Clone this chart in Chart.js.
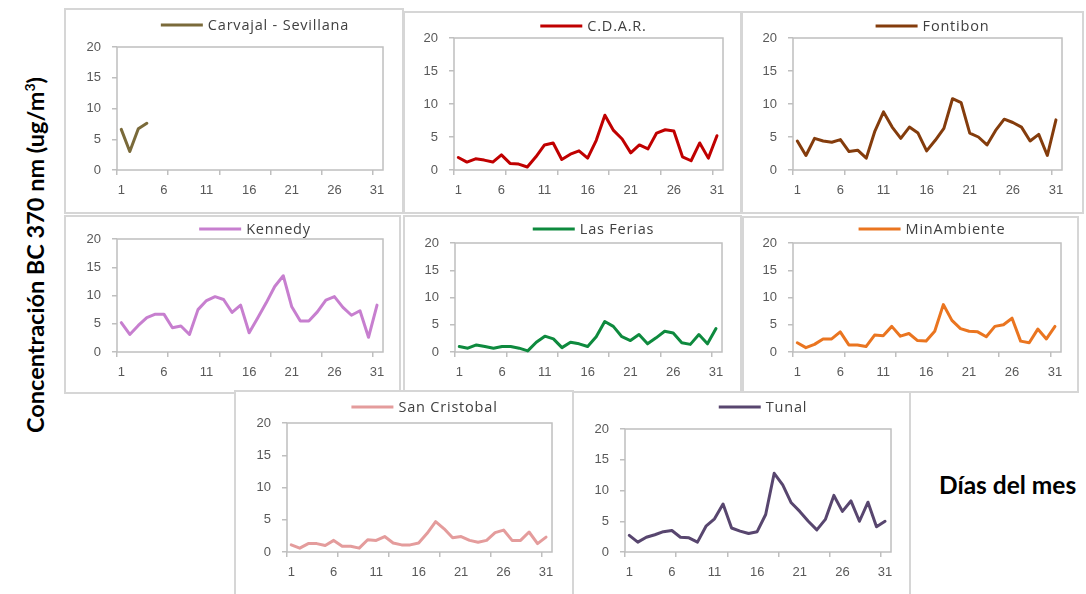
<!DOCTYPE html>
<html>
<head>
<meta charset="utf-8">
<script src="https://cdn.jsdelivr.net/npm/chart.js@4.4.1/dist/chart.umd.min.js"></script>
<style>
  html, body { margin: 0; padding: 0; background: #fff; }
  body { width: 1086px; height: 594px; overflow: hidden; position: relative; font-family: "Lato", "Liberation Sans", sans-serif; }
  .frame { position: absolute; border: 2px solid #d6d6d6; box-sizing: border-box; background: #fff; }
  canvas { position: absolute; }
  .ytitle {
    position: absolute; left: -175px; top: 241px; width: 420px; height: 28px;
    text-align: center; font-weight: bold; font-size: 23.5px; line-height: 28px; color: #000;
    transform: rotate(-90deg); white-space: nowrap;
  }
  .ytitle sup { font-size: 14px; line-height: 0; }
  .xtitle {
    position: absolute; left: 939px; top: 470px; font-weight: bold; font-size: 24.5px; color: #000; white-space: nowrap;
  }
</style>
</head>
<body>
<div class="ytitle">Concentración BC 370 nm (ug/m<sup>3</sup>)</div>
<div class="xtitle">Días del mes</div>
<script>
// Days of the month (x categories)
const days = [1, 2, 3, 4, 5, 6, 7, 8, 9, 10, 11, 12, 13, 14, 15, 16, 17, 18, 19, 20, 21, 22, 23, 24, 25, 26, 27, 28, 29, 30, 31];
const dayLabels = [1, 6, 11, 16, 21, 26, 31];
const yTicks = [0, 5, 10, 15, 20];

// Daily BC 370 nm concentration per station (ug/m3)
const carvajal = [6.6, 3.0, 6.7, 7.6];
const cdar = [1.9, 1.2, 1.7, 1.5, 1.2, 2.3, 1.0, 0.9, 0.45, 2.0, 3.8, 4.1, 1.6, 2.4, 2.9, 1.8, 4.5, 8.3, 6.0, 4.7, 2.6, 3.8, 3.2, 5.6, 6.1, 5.9, 2.0, 1.4, 4.1, 1.8, 5.2];
const fontibon = [4.4, 2.2, 4.8, 4.4, 4.2, 4.6, 2.8, 3.0, 1.8, 5.9, 8.8, 6.5, 4.8, 6.5, 5.6, 2.9, 4.5, 6.3, 10.8, 10.2, 5.6, 5.0, 3.8, 6.0, 7.7, 7.2, 6.5, 4.4, 5.4, 2.2, 7.6];
const kennedy = [5.2, 3.1, 4.7, 6.1, 6.7, 6.7, 4.3, 4.6, 3.1, 7.5, 9.1, 9.8, 9.3, 7.0, 8.3, 3.4, 6.0, 8.7, 11.6, 13.5, 8.0, 5.5, 5.5, 7.1, 9.2, 9.8, 7.9, 6.5, 7.3, 2.6, 8.3];
const lasFerias = [1.0, 0.7, 1.3, 1.0, 0.7, 1.0, 1.0, 0.7, 0.2, 1.8, 2.9, 2.4, 0.8, 1.8, 1.5, 1.0, 2.8, 5.6, 4.7, 2.8, 2.1, 3.2, 1.5, 2.6, 3.8, 3.5, 1.7, 1.4, 3.2, 1.5, 4.3];
const minAmbiente = [1.7, 0.8, 1.4, 2.4, 2.4, 3.7, 1.3, 1.3, 1.0, 3.1, 3.0, 4.7, 2.9, 3.4, 2.1, 2.0, 3.8, 8.7, 5.8, 4.3, 3.8, 3.7, 2.8, 4.7, 5.0, 6.2, 2.0, 1.7, 4.2, 2.4, 4.7];
const sanCristobal = [1.1, 0.6, 1.3, 1.3, 1.0, 1.8, 0.9, 0.9, 0.6, 1.9, 1.8, 2.4, 1.4, 1.1, 1.1, 1.4, 2.9, 4.7, 3.6, 2.2, 2.4, 1.8, 1.5, 1.8, 3.0, 3.4, 1.8, 1.8, 3.1, 1.3, 2.3];
const tunal = [2.7, 1.6, 2.4, 2.8, 3.3, 3.5, 2.4, 2.3, 1.6, 4.2, 5.4, 7.8, 3.9, 3.4, 3.0, 3.3, 6.1, 12.8, 10.9, 8.0, 6.6, 5.0, 3.6, 5.3, 9.2, 6.6, 8.3, 5.0, 8.1, 4.1, 5.0];

// Tick marks sit between categories, every sixth day
const tickMarks = [0.5, 6.5, 12.5, 18.5, 24.5, 30.5];

// Panel layout: frame box [l, t, r, b], plot box [l, t, r, b], legend centre y
const panels = [
  { name: 'Carvajal - Sevillana', values: carvajal,    color: '#7a6a3a', frame: [64, 8, 404, 214],   plot: [117, 47, 383, 170],  legendY: 25 },
  { name: 'C.D.A.R.',             values: cdar,        color: '#c00000', frame: [403, 11, 742, 214], plot: [454, 38, 723, 170],  legendY: 26 },
  { name: 'Fontibon',             values: fontibon,    color: '#843c0c', frame: [741, 11, 1084, 214],plot: [793, 38, 1062, 170], legendY: 26 },
  { name: 'Kennedy',              values: kennedy,     color: '#c77fcf', frame: [64, 215, 401, 394], plot: [117, 239, 383, 352], legendY: 229 },
  { name: 'Las Ferias',           values: lasFerias,   color: '#0e8a3e', frame: [403, 215, 742, 394],plot: [455, 243, 722, 352], legendY: 229 },
  { name: 'MinAmbiente',          values: minAmbiente, color: '#ea7520', frame: [742, 216, 1079, 393],plot: [793, 243, 1061, 352], legendY: 229 },
  { name: 'San Cristobal',        values: sanCristobal,color: '#e49c9c', frame: [234, 390, 574, 600],plot: [287, 423, 552, 552], legendY: 407 },
  { name: 'Tunal',                values: tunal,       color: '#58466f', frame: [572, 391, 911, 600],plot: [625, 429, 891, 552], legendY: 407 }
];

const PAD_TOP = 40, PAD_RIGHT = 10, Y_W = 60, X_H = 40;
const axisGray = '#bfbfbf';
const tickFont = { family: '"Liberation Sans", Arial, sans-serif', size: 13 };

// Plot-area outline drawn under the series
const plotBorder = {
  id: 'plotBorder',
  beforeDatasetsDraw(chart) {
    const { ctx, chartArea: a } = chart;
    ctx.save();
    ctx.strokeStyle = axisGray;
    ctx.lineWidth = 1.5;
    ctx.strokeRect(a.left, a.top, a.right - a.left, a.bottom - a.top);
    ctx.restore();
  }
};

// Line-sample legend centred above the plot
const lineLegend = {
  id: 'lineLegend',
  afterDraw(chart, args, opts) {
    const { ctx, chartArea: a } = chart;
    const ds = chart.data.datasets[0];
    ctx.save();
    ctx.font = '14.5px "Open Sans", "Liberation Sans", sans-serif';
    if ('letterSpacing' in ctx) ctx.letterSpacing = '0.8px';
    const tw = ctx.measureText(ds.label).width;
    const total = 42 + 5 + tw;
    const x0 = (a.left + a.right) / 2 + 5 - total / 2;
    const y = opts.y;
    ctx.strokeStyle = ds.borderColor;
    ctx.lineWidth = 3;
    ctx.beginPath();
    ctx.moveTo(x0, y);
    ctx.lineTo(x0 + 42, y);
    ctx.stroke();
    ctx.fillStyle = '#404040';
    ctx.textBaseline = 'middle';
    ctx.fillText(ds.label, x0 + 47, y + 1);
    ctx.restore();
  }
};

panels.forEach(p => {
  const [fl, ft, fr, fb] = p.frame;
  const frame = document.createElement('div');
  frame.className = 'frame';
  Object.assign(frame.style, { left: fl + 'px', top: ft + 'px', width: (fr - fl) + 'px', height: (fb - ft) + 'px' });
  document.body.appendChild(frame);

  const [pl, pt, pr, pb] = p.plot;
  const cx = pl - Y_W, cy = pt - PAD_TOP;
  const cw = (pr - pl) + Y_W + PAD_RIGHT, ch = (pb - pt) + PAD_TOP + X_H;
  const canvas = document.createElement('canvas');
  canvas.width = cw; canvas.height = ch;
  Object.assign(canvas.style, { left: cx + 'px', top: cy + 'px', width: cw + 'px', height: ch + 'px' });
  document.body.appendChild(canvas);

  new Chart(canvas, {
    type: 'line',
    data: {
      datasets: [{
        label: p.name,
        data: p.values.map((v, i) => ({ x: days[i], y: v })),
        borderColor: p.color,
        backgroundColor: p.color,
        borderWidth: 3,
        pointRadius: 0,
        tension: 0,
        borderJoinStyle: 'round',
        borderCapStyle: 'round',
        clip: false
      }]
    },
    options: {
      responsive: false,
      animation: false,
      devicePixelRatio: 1,
      events: [],
      layout: { padding: { top: PAD_TOP, right: PAD_RIGHT, left: 0, bottom: 0 } },
      plugins: {
        legend: { display: false },
        tooltip: { enabled: false },
        lineLegend: { y: p.legendY - cy }
      },
      scales: {
        x: {
          type: 'linear',
          min: 0.5,
          max: 31.7,
          afterFit(s) { s.height = X_H; },
          afterBuildTicks(s) {
            const vals = [...new Set([...tickMarks, ...dayLabels])].sort((a, b) => a - b);
            s.ticks = vals.map(v => ({ value: v }));
          },
          border: { display: false },
          grid: {
            drawOnChartArea: false,
            drawTicks: true,
            tickLength: 5,
            lineWidth: 1.5,
            tickColor: ctx => (ctx.tick && tickMarks.includes(ctx.tick.value)) ? axisGray : 'rgba(0,0,0,0)',
            color: 'rgba(0,0,0,0)'
          },
          ticks: {
            autoSkip: false,
            maxRotation: 0,
            padding: 8,
            color: '#595959',
            font: tickFont,
            callback: v => dayLabels.includes(v) ? String(v) : ''
          }
        },
        y: {
          min: 0,
          max: 20,
          afterFit(s) { s.width = Y_W; },
          afterBuildTicks(s) { s.ticks = yTicks.map(v => ({ value: v })); },
          border: { display: false },
          grid: {
            drawOnChartArea: false,
            drawTicks: true,
            tickLength: 5,
            lineWidth: 1.5,
            tickColor: axisGray,
            color: 'rgba(0,0,0,0)'
          },
          ticks: {
            padding: 11,
            color: '#595959',
            font: tickFont
          }
        }
      }
    },
    plugins: [plotBorder, lineLegend]
  });
});
</script>
</body>
</html>
